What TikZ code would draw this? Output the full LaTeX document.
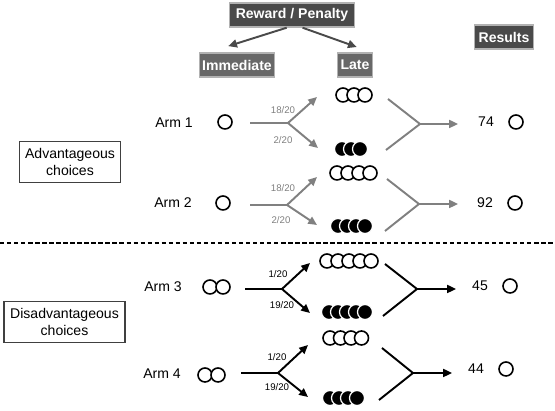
\documentclass[tikz,border=0pt]{standalone}
\usepackage{fontspec}
\setmainfont{Liberation Sans}
\usetikzlibrary{arrows.meta}
\definecolor{boxdark}{HTML}{4A4A4A}
\definecolor{boxmid}{HTML}{686868}
\definecolor{armgray}{HTML}{808080}
\tikzset{
  headbox/.style={fill=boxdark,draw=gray!60,line width=.8pt,text=white,font=\footnotesize\bfseries,minimum height=.48cm,inner sep=1pt},
  subbox/.style={headbox,fill=boxmid},
  choicebox/.style={draw=darkgray,line width=.6pt,font=\footnotesize,align=center,minimum height=.82cm},
  armlabel/.style={font=\footnotesize},
  prob/.style={font=\fontsize{5.5}{6}\selectfont},
  onecirc/.style={circle,draw,line width=.9pt,minimum size=.28cm,inner sep=0pt},
  arr/.style={-{Triangle[length=5pt,width=4.5pt]}},
  upper/.style={draw=armgray,line width=1.1pt},
  lower/.style={draw=black,line width=1.1pt},
}
\begin{document}
\begin{tikzpicture}[x=.02cm,y=-.02cm]
\useasboundingbox(0,0)rectangle(555,411);
%headings
\node[headbox,minimum width=2.5cm] (rp) at (292,15) {Reward / Penalty};
\node[subbox,minimum width=1.5cm] (imm) at (237,65) {Immediate};
\node[subbox,minimum width=.7cm] (late) at (355,65) {Late};
\node[headbox,minimum width=1.18cm] (res) at (504,37) {Results};
\draw[draw=boxdark,line width=1.1pt,arr]([xshift=-3pt]rp.south)--([xshift=-5pt,yshift=3.5pt]imm.north);
\draw[draw=boxdark,line width=1.1pt,arr]([xshift=6pt]rp.south)--([xshift=1pt,yshift=3pt]late.north);
%choice boxes
\node[choicebox,minimum width=2cm] (adv) at (70,162) {Advantageous\\choices};
\node[choicebox,minimum width=2.42cm] (dis) at (64.5,322) {Disadvantageous\\choices};
%separator
\draw[line width=1.1pt,dash pattern=on 2.5pt off 1.5pt](0,243)--(555,243);
%arm 1
\node[armlabel] (arm1) at (174,123) {Arm 1};
\node[onecirc] (c1) at (225,122) {};
\coordinate (s1) at (250,123);
\coordinate (j1) at (288,123);
\coordinate (u1) at (317,97);
\coordinate (d1) at (318,148);
\draw[upper](s1)--(j1);
\draw[upper,arr](j1)--(u1);
\draw[upper,arr](j1)--(d1);
\node[prob,text=armgray] (p1u) at (283,110) {18/20};
\node[prob,text=armgray] (p1d) at (283,140) {2/20};
\foreach \i in {0,...,2}{\draw[fill=white,line width=.9pt]({343+11*\i},95)circle(.14cm);}
\foreach \i in {0,...,2}{\draw[fill=black,draw=white,line width=.7pt]({342+9*\i},149)circle(.15cm);}
\coordinate (m1u) at (388,99);
\coordinate (m1d) at (386,150);
\coordinate (m1) at (420,124);
\coordinate (e1) at (458,124);
\draw[upper](m1u)--(m1)--(m1d);
\draw[upper,arr](m1)--(e1);
\node[armlabel] (v1) at (486,122) {74};
\node[onecirc] (r1) at (516,122) {};
%arm 2
\node[armlabel] (arm2) at (173,203) {Arm 2};
\node[onecirc] (c2) at (223,203) {};
\coordinate (s2) at (250,205);
\coordinate (j2) at (287,205);
\coordinate (u2) at (317,177);
\coordinate (d2) at (317,225);
\draw[upper](s2)--(j2);
\draw[upper,arr](j2)--(u2);
\draw[upper,arr](j2)--(d2);
\node[prob,text=armgray] (p2u) at (283,188) {18/20};
\node[prob,text=armgray] (p2d) at (281,220) {2/20};
\foreach \i in {0,...,3}{\draw[fill=white,line width=.9pt]({337+11*\i},173)circle(.14cm);}
\foreach \i in {0,...,3}{\draw[fill=black,draw=white,line width=.7pt]({338+9*\i},226)circle(.15cm);}
\coordinate (m2u) at (387,179);
\coordinate (m2d) at (385,231);
\coordinate (m2) at (419,204);
\coordinate (e2) at (458,204);
\draw[upper](m2u)--(m2)--(m2d);
\draw[upper,arr](m2)--(e2);
\node[armlabel] (v2) at (485,203) {92};
\node[onecirc] (r2) at (515,203) {};
%arm 3
\node[armlabel] (arm3) at (163,287) {Arm 3};
\foreach \i in {0,1}{\draw[fill=white,line width=.9pt]({210+13*\i},287)circle(.14cm);}
\coordinate (s3) at (245,289);
\coordinate (j3) at (282,289);
\coordinate (u3) at (310,263);
\coordinate (d3) at (310,313);
\draw[lower](s3)--(j3);
\draw[lower,arr](j3)--(u3);
\draw[lower,arr](j3)--(d3);
\node[prob] (p3u) at (278,274) {1/20};
\node[prob] (p3d) at (282,305) {19/20};
\foreach \i in {0,...,4}{\draw[fill=white,line width=.9pt]({327+11*\i},261)circle(.14cm);}
\foreach \i in {0,...,4}{\draw[fill=black,draw=white,line width=.7pt]({329+9*\i},312)circle(.15cm);}
\coordinate (m3u) at (385,264);
\coordinate (m3d) at (383,316);
\coordinate (m3) at (417,289);
\coordinate (e3) at (456,289);
\draw[lower](m3u)--(m3)--(m3d);
\draw[lower,arr](m3)--(e3);
\node[armlabel] (v3) at (480,286) {45};
\node[onecirc] (r3) at (510,286) {};
%arm 4
\node[armlabel] (arm4) at (162,374) {Arm 4};
\foreach \i in {0,1}{\draw[fill=white,line width=.9pt]({205+13*\i},375)circle(.14cm);}
\coordinate (s4) at (241,373);
\coordinate (j4) at (278,373);
\coordinate (u4) at (308,345);
\coordinate (d4) at (308,397);
\draw[lower](s4)--(j4);
\draw[lower,arr](j4)--(u4);
\draw[lower,arr](j4)--(d4);
\node[prob] (p4u) at (277,357) {1/20};
\node[prob] (p4d) at (277,387) {19/20};
\foreach \i in {0,...,3}{\draw[fill=white,line width=.9pt]({330+10.5*\i},338)circle(.14cm);}
\foreach \i in {0,...,3}{\draw[fill=black,draw=white,line width=.7pt]({330+9*\i},398)circle(.15cm);}
\coordinate (m4u) at (382,348);
\coordinate (m4d) at (379,400);
\coordinate (m4) at (413,373);
\coordinate (e4) at (452,373);
\draw[lower](m4u)--(m4)--(m4d);
\draw[lower,arr](m4)--(e4);
\node[armlabel] (v4) at (476,369) {44};
\node[onecirc] (r4) at (506,369) {};
\end{tikzpicture}
\end{document}
